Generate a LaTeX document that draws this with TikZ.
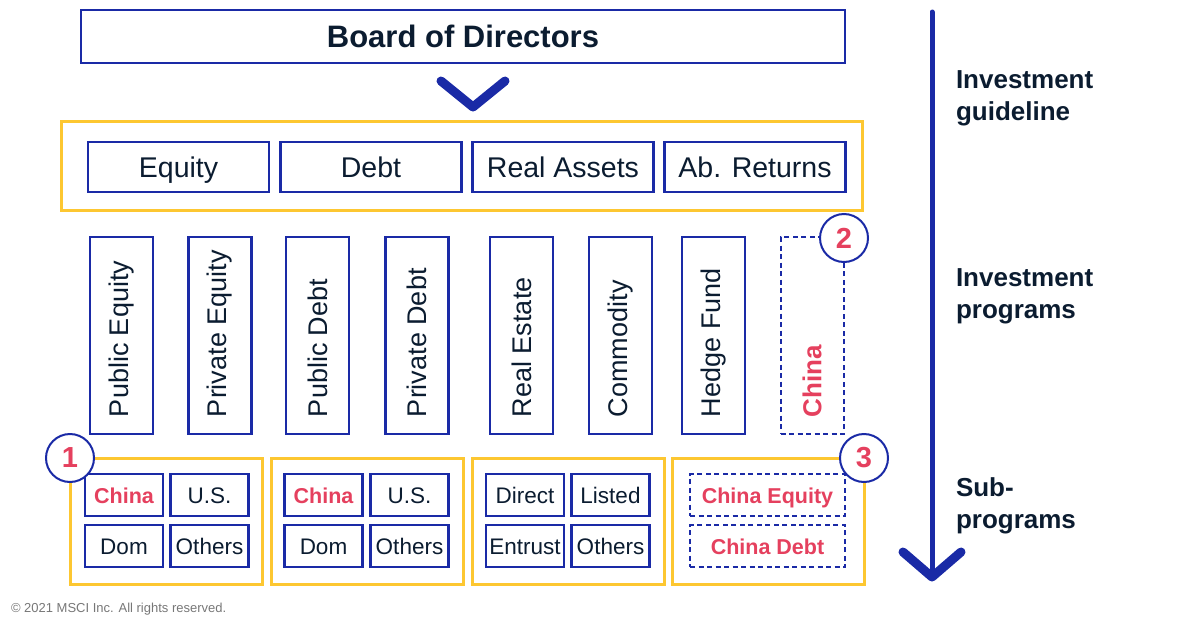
\documentclass[tikz,border=0pt]{standalone}
\usepackage{fontspec}
\setmainfont{Liberation Sans}
\definecolor{mblue}{HTML}{1A2AA6}
\definecolor{myellow}{HTML}{FDC731}
\definecolor{mred}{HTML}{E5405E}
\definecolor{mtext}{HTML}{0B1C30}
\definecolor{mgray}{HTML}{777777}
\begin{document}
\begin{tikzpicture}[x=1pt,y=-1pt,
  every node/.style={inner sep=0pt,outer sep=0pt,text=mtext},
  bluebox/.style={draw=mblue,line width=2.1pt,fill=white},
  dashbox/.style={draw=mblue,line width=2pt,dash pattern=on 5pt off 3.5pt,fill=white},
  yelbox/.style={draw=myellow,line width=3pt},
  catbox/.style={bluebox,minimum width=181pt,minimum height=50pt,text height=24pt,text depth=4pt,font=\fontsize{28.5}{30}\selectfont},
  progbox/.style={bluebox,minimum width=63pt,minimum height=197pt},
  proglabel/.style={rotate=90,anchor=west,font=\fontsize{27}{30}\selectfont},
  subbox/.style={bluebox,minimum width=78pt,minimum height=42pt,text height=20pt,text depth=4pt,font=\fontsize{22.5}{26}\selectfont},
  subred/.style={text=mred,font=\bfseries\fontsize{21.5}{26}\selectfont},
  groupbox/.style={yelbox,minimum width=192pt,minimum height=126pt},
  numcircle/.style={circle,draw=mblue,line width=2pt,fill=white,minimum size=48pt,text=mred,font=\bfseries\fontsize{29}{30}\selectfont},
  sidelabel/.style={anchor=west,align=left,font=\bfseries\fontsize{26}{32}\selectfont},
  chev/.style={draw=mblue,line width=9pt,line cap=round,line join=round}
]
\useasboundingbox (0,0) rectangle (1200,627);

% Board
\node[bluebox,minimum width=764pt,minimum height=53pt,text height=26pt,text depth=4pt,font=\bfseries\fontsize{31}{34}\selectfont] (board) at (463,36.5) {Board of Directors};
\coordinate (c1l) at (441,81);
\coordinate (c1t) at (473,107);
\coordinate (c1r) at (505,81);
\draw[chev] (c1l) -- (c1t) -- (c1r);

% Asset classes
\node[yelbox,minimum width=801pt,minimum height=89pt] (classes) at (461.5,165.5) {};
\node[catbox] (equity) at (178.5,167) {Equity};
\node[catbox] (debt) at (371,167) {Debt};
\node[catbox] (real) at (563,167) {Real Assets};
\node[catbox] (abret) at (755,167) {Ab. Returns};

% Programs
\node[progbox] (pe) at (121.5,335.5) {};
\node[proglabel] at (121.5,417) {Public Equity};
\node[progbox] (pve) at (220,335.5) {};
\node[proglabel] at (220,417) {Private Equity};
\node[progbox] (pd) at (317.5,335.5) {};
\node[proglabel] at (317.5,417) {Public Debt};
\node[progbox] (pvd) at (417,335.5) {};
\node[proglabel] at (417,417) {Private Debt};
\node[progbox] (re) at (521.5,335.5) {};
\node[proglabel] at (521.5,417) {Real Estate};
\node[progbox] (com) at (620.5,335.5) {};
\node[proglabel] at (620.5,417) {Commodity};
\node[progbox] (hf) at (713.5,335.5) {};
\node[proglabel] at (713.5,417) {Hedge Fund};
\node[dashbox,minimum width=63pt,minimum height=197pt] (chn) at (812,335.5) {};
\node[proglabel,text=mred,font=\bfseries\fontsize{26}{30}\selectfont] at (812,417) {China};

% Sub-program groups
\node[groupbox] (g1) at (166.5,521) {};
\node[groupbox] (g2) at (367,521) {};
\node[groupbox] (g3) at (568,521) {};
\node[groupbox] (g4) at (768.5,521) {};

\node[subbox,subred] (g1a) at (124,495) {China};
\node[subbox] (g1b) at (209.5,495) {U.S.};
\node[subbox] (g1c) at (124,546) {Dom};
\node[subbox] (g1d) at (209.5,546) {Others};

\node[subbox,subred] (g2a) at (323.5,495) {China};
\node[subbox] (g2b) at (409.5,495) {U.S.};
\node[subbox] (g2c) at (323.5,546) {Dom};
\node[subbox] (g2d) at (409.5,546) {Others};

\node[subbox] (g3a) at (525,495) {Direct};
\node[subbox] (g3b) at (610.5,495) {Listed};
\node[subbox] (g3c) at (525,546) {Entrust};
\node[subbox] (g3d) at (610.5,546) {Others};

\node[dashbox,minimum width=155pt,minimum height=42pt,text height=20pt,text depth=4pt,subred] (g4a) at (767.5,495) {China Equity};
\node[dashbox,minimum width=155pt,minimum height=42pt,text height=20pt,text depth=4pt,subred] (g4b) at (767.5,546) {China Debt};

% Number circles
\node[numcircle] (n1) at (70,458) {1};
\node[numcircle] (n2) at (844,238) {2};
\node[numcircle] (n3) at (864,458) {3};

% Side arrow
\coordinate (atop) at (932,12);
\coordinate (abot) at (932,574);
\coordinate (awl) at (903,552);
\coordinate (awt) at (932,577);
\coordinate (awr) at (961,552);
\draw[draw=mblue,line width=5pt,line cap=round] (atop) -- (abot);
\draw[chev] (awl) -- (awt) -- (awr);

\node[sidelabel] (l1) at (956,98) {Investment\\guideline};
\node[sidelabel] (l2) at (956,296) {Investment\\programs};
\node[sidelabel] (l3) at (956,506) {Sub-\\programs};

\node[anchor=west,text=mgray,font=\fontsize{13}{15}\selectfont] (copy) at (11,609) {© 2021 MSCI Inc. All rights reserved.};
\end{tikzpicture}
\end{document}
